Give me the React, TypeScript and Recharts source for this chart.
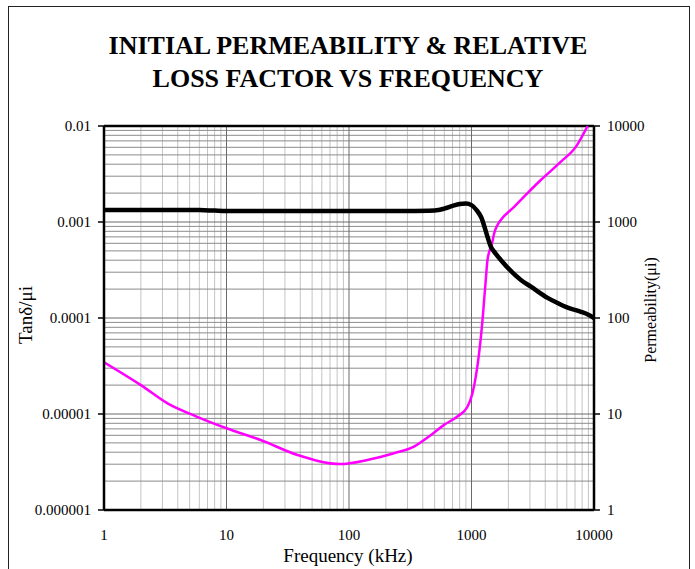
import React from "react";
import {
  CartesianGrid,
  Line,
  LineChart,
  ReferenceLine,
  XAxis,
  YAxis,
} from "recharts";

// Frequency axis (kHz)
const X_TICKS = [1, 10, 100, 1000, 10000];
const X_TICK_LABELS = ["1", "10", "100", "1000", "10000"];

// Left axis: relative loss factor tanδ/μi
const LOSS_TICKS = [0.000001, 0.00001, 0.0001, 0.001, 0.01];
const LOSS_TICK_LABELS = ["0.000001", "0.00001", "0.0001", "0.001", "0.01"];

// Right axis: initial permeability μi
const PERM_TICKS = [1, 10, 100, 1000, 10000];
const PERM_TICK_LABELS = ["1", "10", "100", "1000", "10000"];

// Permeability curve
const PERM_FREQ = [
  1, 2, 4, 6, 8, 10, 30, 100, 300, 500, 600, 700, 800, 900, 1000, 1100, 1200,
  1350, 1437, 1530, 1735, 2530, 3054, 4180, 5045, 6095, 7830, 9000, 10000,
];
const PERM_VALUES = [
  1330, 1330, 1330, 1330, 1315, 1305, 1300, 1300, 1305, 1320, 1380, 1470,
  1540, 1560, 1500, 1330, 1120, 703, 553, 491, 402, 249, 212, 162, 143, 128,
  116, 108, 100,
];

// Loss factor curve
const LOSS_FREQ = [
  1, 2, 3.3, 5.7, 10, 19, 38, 85, 141, 233, 339, 464, 597, 767, 927, 1018,
  1084, 1154, 1230, 1268, 1308, 1350, 1480, 1530, 1630, 1735, 2228, 2865, 3680,
  5375, 7130, 8870,
];
const LOSS_VALUES = [
  3.46e-5, 2.0e-5, 1.29e-5, 9.4e-6, 7.1e-6, 5.36e-6, 3.74e-6, 3.01e-6, 3.32e-6,
  3.9e-6, 4.57e-6, 6.0e-6, 7.7e-6, 9.4e-6, 1.19e-5, 1.64e-5, 2.45e-5, 4.3e-5,
  9.5e-5, 1.54e-4, 2.5e-4, 4.0e-4, 6.2e-4, 7.6e-4, 9.3e-4, 1.05e-3, 1.44e-3,
  2.0e-3, 2.74e-3, 4.25e-3, 6.1e-3, 1.0e-2,
];

const permData = PERM_FREQ.map((f, i) => ({ f, mu: PERM_VALUES[i] }));
const lossData = LOSS_FREQ.map((f, i) => ({ f, loss: LOSS_VALUES[i] }));

// 2..9 subdivisions inside each decade for the minor grid
const minorSteps = (lo: number, decades: number) => {
  const out: number[] = [];
  for (let d = 0; d < decades; d++) {
    for (let k = 2; k <= 9; k++) out.push(lo * Math.pow(10, d) * k);
  }
  return out;
};
const X_MINOR = minorSteps(1, 4);
const LOSS_MINOR = minorSteps(0.000001, 4);

const FONT = '"Liberation Serif", "Times New Roman", serif';
const tickStyle = { fontFamily: FONT, fontSize: 15, fill: "#000" };

export default function App() {
  return (
    <div
      style={{
        position: "absolute",
        left: 0,
        top: 0,
        width: 695,
        height: 569,
        background: "#fff",
        overflow: "hidden",
      }}
    >
      <div
        style={{
          position: "absolute",
          left: 8,
          top: 6,
          width: 680,
          height: 620,
          border: "1.5px solid #222",
        }}
      />
      <LineChart
        width={695}
        height={569}
        margin={{ top: 126, right: 0, bottom: 0, left: 0 }}
        style={{ position: "absolute", left: 0, top: 0 }}
      >
        <CartesianGrid
          xAxisId="x"
          yAxisId="left"
          horizontal={false}
          verticalValues={X_MINOR}
          stroke="#c4c4c4"
          strokeWidth={1}
        />
        <CartesianGrid
          xAxisId="x"
          yAxisId="left"
          vertical={false}
          horizontalValues={LOSS_MINOR}
          stroke="#8c8c8c"
          strokeWidth={1}
        />
        <CartesianGrid
          xAxisId="x"
          yAxisId="left"
          horizontalValues={LOSS_TICKS}
          verticalValues={X_TICKS}
          stroke="#6a6a6a"
          strokeWidth={1}
        />
        <XAxis
          xAxisId="x"
          dataKey="f"
          type="number"
          scale="log"
          domain={[1, 10000]}
          ticks={X_TICKS}
          tickFormatter={(v: number) => X_TICK_LABELS[X_TICKS.indexOf(v)] ?? ""}
          allowDataOverflow
          height={59}
          tickLine={false}
          tickSize={6}
          tickMargin={13}
          axisLine={{ stroke: "#000", strokeWidth: 2.5 }}
          tick={tickStyle}
          interval={0}
        />
        <YAxis
          yAxisId="left"
          orientation="left"
          type="number"
          scale="log"
          domain={[0.000001, 0.01]}
          ticks={LOSS_TICKS}
          tickFormatter={(v: number) =>
            LOSS_TICK_LABELS[Math.round(Math.log10(v)) + 6] ?? ""
          }
          allowDataOverflow
          width={104}
          tickSize={6}
          tickMargin={7}
          tickLine={{ stroke: "#000", strokeWidth: 1.5 }}
          axisLine={{ stroke: "#000", strokeWidth: 2.5 }}
          tick={tickStyle}
          interval={0}
        />
        <YAxis
          yAxisId="right"
          orientation="right"
          type="number"
          scale="log"
          domain={[1, 10000]}
          ticks={PERM_TICKS}
          tickFormatter={(v: number) =>
            PERM_TICK_LABELS[Math.round(Math.log10(v))] ?? ""
          }
          allowDataOverflow
          width={101}
          tickSize={6}
          tickMargin={7}
          tickLine={{ stroke: "#000", strokeWidth: 1.5 }}
          axisLine={{ stroke: "#000", strokeWidth: 2.5 }}
          tick={{ ...tickStyle, textAnchor: "start" }}
          interval={0}
        />
        <ReferenceLine
          xAxisId="x"
          yAxisId="left"
          y={0.01}
          stroke="#000"
          strokeWidth={2.5}
        />
        <Line
          data={lossData}
          xAxisId="x"
          yAxisId="left"
          dataKey="loss"
          type="monotone"
          stroke="#ff00ff"
          strokeWidth={2.5}
          dot={false}
          isAnimationActive={false}
        />
        <Line
          data={permData}
          xAxisId="x"
          yAxisId="right"
          dataKey="mu"
          type="monotone"
          stroke="#000"
          strokeWidth={4.5}
          dot={false}
          isAnimationActive={false}
        />
      </LineChart>
      <svg
        width={695}
        height={569}
        style={{ position: "absolute", left: 0, top: 0, pointerEvents: "none" }}
        fontFamily={FONT}
      >
        <text x={348} y={54} textAnchor="middle" fontSize={26} fontWeight="bold">
          INITIAL PERMEABILITY &amp; RELATIVE
        </text>
        <text x={348} y={87} textAnchor="middle" fontSize={26} fontWeight="bold">
          LOSS FACTOR VS FREQUENCY
        </text>
        <text
          transform="translate(31.5,315) rotate(-90)"
          textAnchor="middle"
          fontSize={19}
        >
          Tanδ/μi
        </text>
        <text
          transform="translate(656,310) rotate(-90)"
          textAnchor="middle"
          fontSize={16}
        >
          Permeability(μi)
        </text>
        <text x={348} y={562} textAnchor="middle" fontSize={19}>
          Frequency (kHz)
        </text>
      </svg>
    </div>
  );
}
